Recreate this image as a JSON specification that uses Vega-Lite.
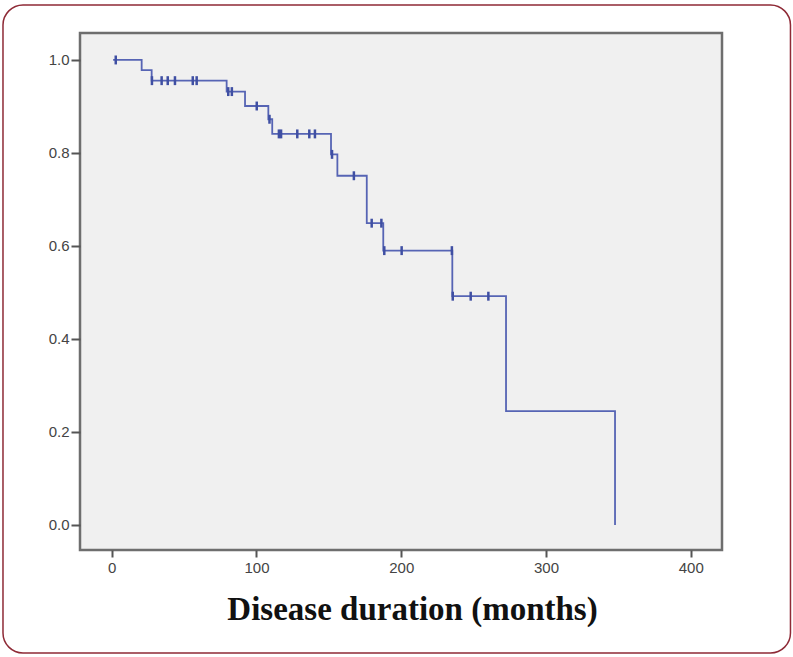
{
  "$schema": "https://vega.github.io/schema/vega-lite/v6.json",
  "width": 642,
  "height": 517,
  "autosize": {"type": "none"},
  "padding": {"left": 80, "top": 33, "right": 71, "bottom": 107},
  "background": "white",
  "config": {
    "view": {"fill": "#f0f0f0", "stroke": "#6e6e6e", "strokeWidth": 2.5}
  },
  "datasets": {
    "curve": [
      {"months": 1.0, "survival": 1.0},
      {"months": 20.7, "survival": 0.978},
      {"months": 27.6, "survival": 0.9555},
      {"months": 79.4, "survival": 0.932},
      {"months": 92.1, "survival": 0.901},
      {"months": 108.2, "survival": 0.8725},
      {"months": 110.9, "survival": 0.841},
      {"months": 151.5, "survival": 0.797},
      {"months": 155.9, "survival": 0.751},
      {"months": 176.2, "survival": 0.649},
      {"months": 187.6, "survival": 0.59},
      {"months": 235.3, "survival": 0.492},
      {"months": 272.4, "survival": 0.245},
      {"months": 347.7, "survival": 0.0}
    ],
    "censored": [
      {"months": 2.8, "survival": 1.0},
      {"months": 27.8, "survival": 0.9555},
      {"months": 34.5, "survival": 0.9555},
      {"months": 38.7, "survival": 0.9555},
      {"months": 43.7, "survival": 0.9555},
      {"months": 56.0, "survival": 0.9555},
      {"months": 58.7, "survival": 0.9555},
      {"months": 80.5, "survival": 0.932},
      {"months": 83.0, "survival": 0.932},
      {"months": 100.2, "survival": 0.901},
      {"months": 109.0, "survival": 0.8725},
      {"months": 115.5, "survival": 0.841},
      {"months": 117.0, "survival": 0.841},
      {"months": 128.2, "survival": 0.841},
      {"months": 136.5, "survival": 0.841},
      {"months": 140.4, "survival": 0.841},
      {"months": 152.2, "survival": 0.797},
      {"months": 167.3, "survival": 0.751},
      {"months": 179.6, "survival": 0.649},
      {"months": 186.3, "survival": 0.649},
      {"months": 188.3, "survival": 0.59},
      {"months": 200.3, "survival": 0.59},
      {"months": 235.0, "survival": 0.59},
      {"months": 235.6, "survival": 0.492},
      {"months": 248.0, "survival": 0.492},
      {"months": 260.2, "survival": 0.492}
    ]
  },
  "layer": [
    {
      "data": {"values": [{"frame": "outer"}]},
      "mark": {
        "type": "rect",
        "fill": "transparent",
        "stroke": "#8e2a36",
        "strokeWidth": 1.5,
        "cornerRadius": 20,
        "clip": false
      },
      "encoding": {
        "x": {"datum": -75.1, "type": "quantitative", "scale": {"domain": [-21.9, 421.6], "nice": false, "zero": false}},
        "x2": {"datum": 468.9},
        "y": {"datum": 1.1182, "type": "quantitative", "scale": {"domain": [-0.0538, 1.058], "nice": false, "zero": false}},
        "y2": {"datum": -0.2753}
      }
    },
    {
      "data": {"name": "curve"},
      "mark": {"type": "line", "interpolate": "step-after", "color": "#5664b4", "strokeWidth": 1.8},
      "encoding": {
        "x": {
          "field": "months",
          "type": "quantitative",
          "axis": {
            "values": [0, 100, 200, 300, 400],
            "domain": false,
            "grid": false,
            "tickSize": 7,
            "tickWidth": 2,
            "tickColor": "#555555",
            "labelFont": "Liberation Sans",
            "labelFontSize": 15,
            "labelColor": "#444444",
            "labelPadding": 3,
            "title": "Disease duration (months)",
            "titleFont": "Liberation Serif",
            "titleFontSize": 33,
            "titleFontWeight": "bold",
            "titleColor": "#111111",
            "titleX": 332,
            "titleY": 69,
            "titleAlign": "center",
            "titleBaseline": "alphabetic"
          }
        },
        "y": {
          "field": "survival",
          "type": "quantitative",
          "axis": {
            "values": [0, 0.2, 0.4, 0.6, 0.8, 1.0],
            "format": ".1f",
            "domain": false,
            "grid": false,
            "tickSize": 9,
            "tickWidth": 2,
            "tickColor": "#555555",
            "labelFont": "Liberation Sans",
            "labelFontSize": 15,
            "labelColor": "#444444",
            "labelPadding": 2,
            "title": null
          }
        }
      }
    },
    {
      "data": {"name": "censored"},
      "mark": {
        "type": "point",
        "shape": "M-0.28,-1H0.28V1H-0.28Z",
        "filled": true,
        "color": "#3f4fa3",
        "size": 80,
        "opacity": 1
      },
      "encoding": {
        "x": {"field": "months", "type": "quantitative"},
        "y": {"field": "survival", "type": "quantitative"}
      }
    }
  ]
}
